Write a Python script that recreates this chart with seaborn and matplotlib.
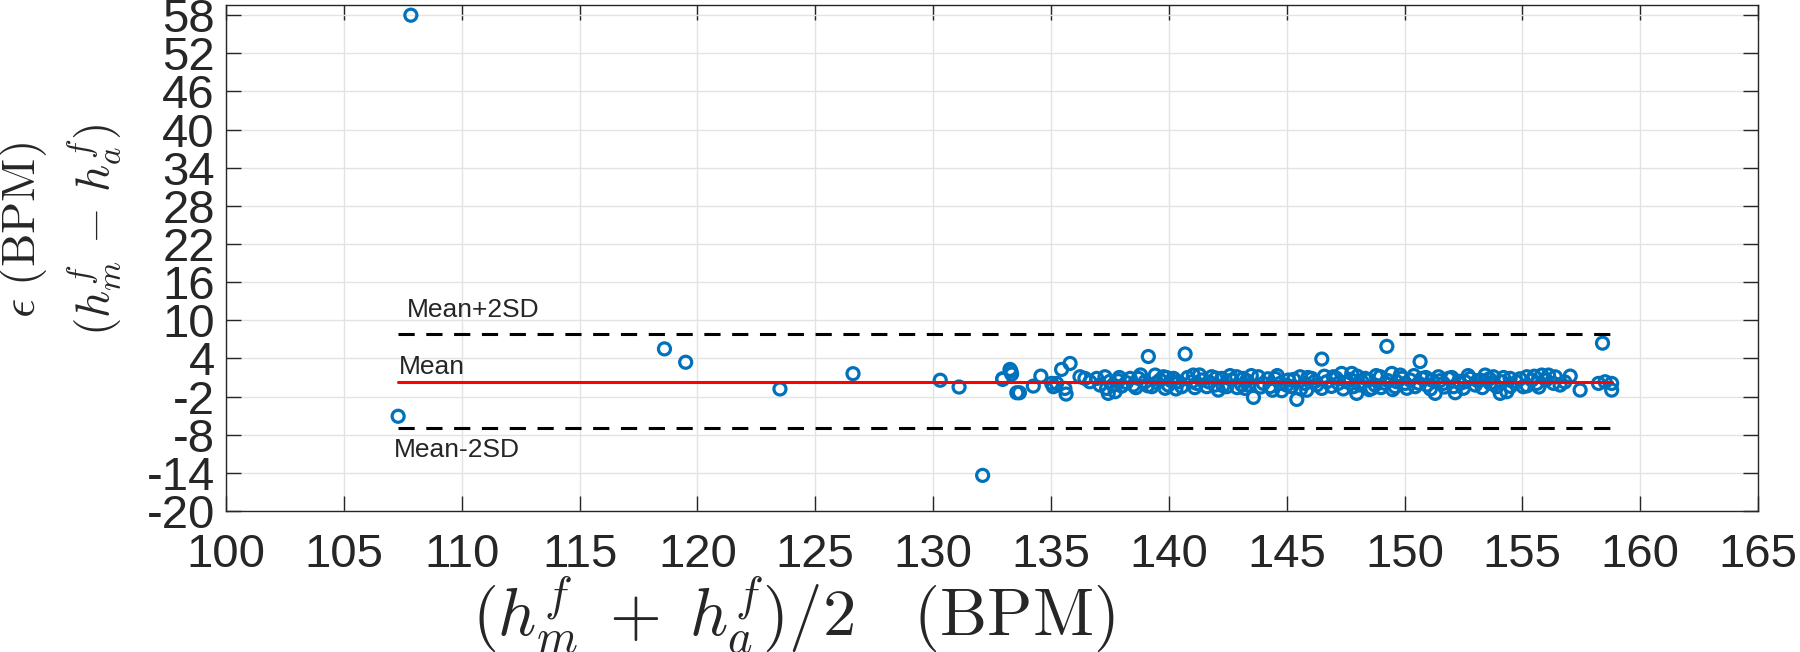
import matplotlib
matplotlib.use("Agg")
import matplotlib.pyplot as plt
import pandas as pd
import seaborn as sns


# Diferenca entre as duas estimativas de frequencia cardiaca (Bland-Altman).
# Pontos isolados.
media_outliers = [107.84, 107.3, 118.6, 119.5, 123.5, 126.6, 130.3, 131.1,
                  132.1, 132.95, 133.3, 133.55, 139.13, 140.69, 146.49,
                  149.25, 150.66, 158.4]
dif_outliers = [58.0, -5.1, 5.5, 3.4, -0.8, 1.6, 0.57, -0.5,
                -14.4, 0.8, 2.0, -1.4, 4.3, 4.7, 3.9,
                5.9, 3.5, 6.4]

# Nuvem densa entre 133 e 159 BPM.
media_nuvem = [
    132.95, 133.26, 133.33, 133.66, 134.25, 134.57, 135.03, 135.1, 135.24,
    135.45, 135.59, 135.81, 135.64, 136.23, 136.44, 136.65, 136.94, 137.08,
    137.29, 137.36, 137.43, 137.64, 137.72,
    137.86, 138.0, 138.36, 138.5, 138.71, 138.99, 139.28, 139.42, 139.63,
    139.77, 139.84, 139.98, 140.2, 140.41, 140.55, 140.97, 141.04, 141.19,
    141.4, 141.61, 141.82, 141.96, 142.1, 142.25, 142.46, 142.67, 142.88,
    143.1,
    143.16, 143.23, 143.37, 143.59, 143.8, 144.01, 144.29, 144.51, 144.72,
    144.79, 145.07, 145.21, 145.43, 145.57, 145.78, 145.85, 146.06, 146.27,
    146.49, 146.7, 146.98, 147.19, 147.33, 147.55, 147.76, 147.83, 147.97,
    148.11, 148.33,
    148.47, 148.61, 148.75, 148.97, 149.18, 149.46, 149.6, 149.67, 149.82,
    150.03, 150.24, 150.45, 150.74, 150.95, 151.16, 151.3, 151.44, 151.65,
    151.87, 152.08, 152.15, 152.36, 152.57, 152.79, 153.0, 153.21, 153.42,
    153.64,
    153.77, 153.91, 154.06, 154.13, 154.34, 154.48, 154.76, 155.04, 155.19,
    155.4, 155.61, 155.82, 156.11, 156.32, 156.6, 157.03, 157.45, 158.23,
    158.51, 158.79, 158.79,
]
dif_nuvem = [
    0.7, 2.27, 1.54, -1.4, -0.35, 1.22, 0.07, -0.45, 0.07,
    2.27, -0.72, 3.21, -1.61, 1.12, 0.86, 0.33, 0.86, -0.19,
    1.12, -0.72, -1.5, -0.19, -1.24,
    0.5, -0.35, 0.86, -0.2, 0.86, 0.33, -0.45, 1.38, 0.6,
    1.12, -0.7, -0.19, 0.86, 0.33, -0.45, 0.33, 1.38, 0.07,
    0.6, -0.45, 1.12, -0.19, -0.98, 0.86, -0.45, 0.6, 1.12,
    -0.19,
    0.86, -0.72, -0.19, -2.13, 1.12, 0.07, -0.45, 0.86, 0.07,
    -1.08, 0.6, -0.45, -2.45, 1.12, 0.07, -1.0, 0.86, -0.19,
    -0.72, 0.33, 1.12, 0.07, 1.64, 0.33, 1.64, -0.45, -1.5,
    -0.19, 0.86,
    0.6, -0.72, -0.19, 1.12, 0.07, 1.64, -0.45, 0.33, 1.38,
    0.07, 0.6, -0.45, 0.86, -0.19, 0.6, -1.5, 1.12, 0.07,
    0.86, -0.45, -1.4, 0.07, 0.33, 0.86, -0.19, 0.6, 1.38,
    0.07,
    1.12, -0.45, -1.5, 0.33, -1.24, 0.86, 0.33, -0.45, 1.12,
    0.6, 0.07, 1.38, 1.38, 0.07, -0.19, 1.22, -0.98, 0.07,
    0.33, 0.07, -0.98,
]

# Pontos sobrepostos no miolo da faixa (segunda camada).
media_miolo = [
    137.5, 137.9, 138.2, 138.6, 138.8, 139.1, 139.5, 139.9, 140.1, 140.3,
    140.8, 141.1, 141.3, 141.7, 142.0, 142.3, 142.6, 142.9, 143.3, 143.5,
    143.9, 144.2, 144.4, 144.6, 145.0, 145.3, 145.6, 145.9, 146.2, 146.6,
    146.9, 147.1, 147.4, 147.7, 148.0, 148.2, 148.5, 148.8, 149.0, 149.3,
    149.5, 149.9, 150.1, 150.4, 150.6, 150.9, 151.1, 151.5, 151.7, 152.0,
    152.3, 152.5, 152.7, 153.1, 153.3, 153.6, 153.8, 154.2, 154.5, 154.9,
    155.2, 155.5, 155.7, 156.0, 156.4, 156.8,
]
dif_miolo = [
    0.4, 1.0, 0.2, -0.6, 1.4, -0.3, 0.2, 1.0, 0.5, -0.8,
    1.0, -0.6, 1.4, 0.3, 0.9, -0.3, 1.3, -0.6, 0.5, 1.3,
    -0.5, 0.8, -1.0, 1.3, -0.2, 0.7, -0.8, 1.0, 0.4, 1.2,
    -0.4, 0.9, -0.8, 0.7, 1.2, 0.3, -0.9, 1.3, -0.6, 0.5,
    -0.9, 0.9, -0.7, 1.3, 0.1, 1.0, -0.8, 0.5, -0.5, 1.0,
    0.4, -0.7, 1.3, 0.5, -0.6, 0.8, -0.1, 1.0, -0.4, 0.8,
    -0.3, 1.2, -0.5, 0.6, 1.1, 0.3,
]

# Linhas de concordancia.
MEDIA_DIF = 0.35
LIMITE_SUP = 7.9
LIMITE_INF = -6.9

X_TICKS = list(range(100, 166, 5))
Y_TICKS = list(range(-20, 59, 6))

AZUL = "#0072BD"


def main():
    sns.set_theme(style="whitegrid")
    plt.rcParams["font.family"] = ["Liberation Sans", "DejaVu Sans"]
    plt.rcParams["mathtext.fontset"] = "cm"
    plt.rcParams["axes.unicode_minus"] = False

    dados = pd.DataFrame({
        "media": media_outliers + media_nuvem + media_miolo,
        "dif": dif_outliers + dif_nuvem + dif_miolo,
    })
    x_min, x_max = dados["media"].min(), dados["media"].max()

    fig = plt.figure(figsize=(18, 6.52), dpi=100)
    ax = fig.add_axes([0.1256, 0.2163, 0.8511, 0.776])

    sns.scatterplot(
        data=dados, x="media", y="dif", ax=ax,
        marker="o", s=75, facecolors="none", edgecolor=AZUL,
        linewidth=2.3, zorder=3, legend=False,
    )
    ax.plot([x_min, x_max], [MEDIA_DIF, MEDIA_DIF], color="red", lw=2.2, zorder=4)
    for nivel in (LIMITE_SUP, LIMITE_INF):
        ax.plot([x_min, x_max], [nivel, nivel], color="black", lw=2.2,
                dashes=(5.3, 3.8), zorder=4)

    ax.text(107.67, 11.6, "Mean+2SD", fontsize=19, va="center", ha="left")
    ax.text(107.35, 2.7, "Mean", fontsize=19, va="center", ha="left")
    ax.text(107.1, -10.4, "Mean-2SD", fontsize=19, va="center", ha="left")

    ax.set_xlim(100, 165)
    ax.set_ylim(-20, 59.6)
    ax.set_xticks(X_TICKS)
    ax.set_yticks(Y_TICKS)
    ax.grid(True, color="#e3e3e3", linewidth=1.0)
    ax.set_facecolor("white")
    for lado in ax.spines.values():
        lado.set_visible(True)
        lado.set_color("#262626")
        lado.set_linewidth(1.0)
    ax.tick_params(direction="in", length=10.8, width=1.0, color="#262626",
                   labelsize=34, labelcolor="#262626", top=True, right=True,
                   left=True, bottom=True)
    ax.tick_params(axis="x", pad=16)
    ax.tick_params(axis="y", pad=8)

    ax.set_xlabel(r"$(h_m^f\; +\; h_a^f)/2\quad\mathrm{(BPM)}$", fontsize=48,
                  va="center")
    ax.xaxis.set_label_coords(0.37, -0.207)
    ax.set_ylabel("$\\epsilon\\ \\mathrm{(BPM)}$\n$(h_m^f\\, -\\, h_a^f)$",
                  fontsize=34, va="center", ha="center", linespacing=1.35)
    ax.yaxis.set_label_coords(-0.108, 0.555)

    fig.savefig("out.png", dpi=100, facecolor="white")
    plt.close(fig)


if __name__ == "__main__":
    main()
